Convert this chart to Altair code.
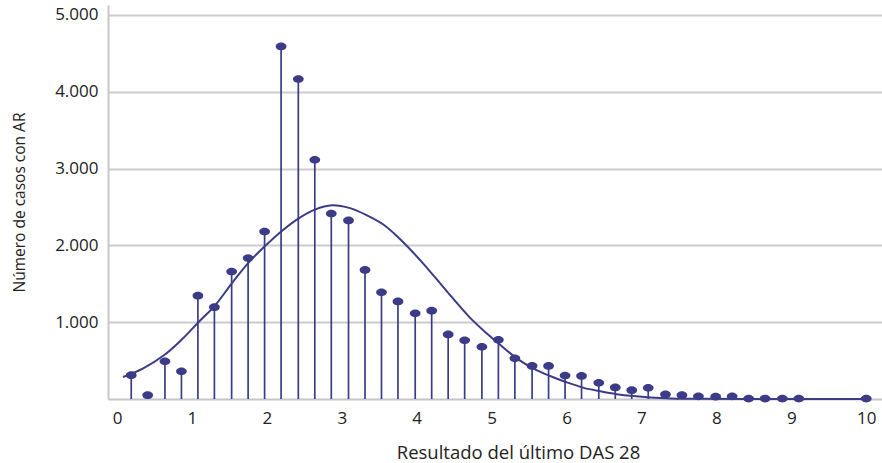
import altair as alt
import pandas as pd

# DAS 28 bins (x) and number of RA cases (y)
das_values = [0.19, 0.41, 0.64, 0.86, 1.08, 1.30, 1.53, 1.75, 1.97, 2.19,
              2.42, 2.64, 2.86, 3.09, 3.31, 3.53, 3.75, 3.98, 4.20, 4.42,
              4.64, 4.87, 5.09, 5.31, 5.54, 5.76, 5.98, 6.20, 6.43, 6.65,
              6.87, 7.09, 7.32, 7.54, 7.76, 7.99, 8.21, 8.43, 8.65, 8.88,
              9.10, 10.0]
cases = [310, 50, 490, 360, 1345, 1195, 1660, 1835, 2180, 4590,
         4165, 3115, 2415, 2325, 1680, 1390, 1270, 1115, 1150, 840,
         765, 680, 770, 530, 430, 430, 305, 300, 210, 150,
         115, 145, 60, 50, 35, 30, 35, 5, 5, 5,
         5, 5]

# fitted curve
curve_x = [0.08, 0.35, 0.64, 0.87, 1.09, 1.31, 1.53, 1.75, 1.98, 2.20,
           2.42, 2.64, 2.87, 3.11, 3.33, 3.55, 3.78, 4.09, 4.40, 4.71,
           4.94, 5.11, 5.34, 5.56, 5.78, 6.00, 6.23, 6.45, 6.67, 6.89,
           7.12, 7.40, 7.80, 8.40, 9.20, 10.0]
curve_y = [286, 400, 580, 780, 1003, 1220, 1503, 1770, 1995, 2188,
           2349, 2466, 2522, 2485, 2395, 2275, 2080, 1760, 1405, 1060,
           850, 710, 525, 396, 300, 218, 145, 100, 63, 38,
           20, 8, 2, 0, 0, 0]

x_ticks = [0, 1, 2, 3, 4, 5, 6, 7, 8, 9, 10]
y_ticks = [1000, 2000, 3000, 4000, 5000]

COLOR = "#3b3b88"
FONT = "Open Sans"

pts = pd.DataFrame({"das": das_values, "casos": cases})
crv = pd.DataFrame({"das": curve_x, "casos": curve_y})

x_scale = alt.Scale(domain=[-0.12, 10.21], nice=False, zero=False)
y_scale = alt.Scale(domain=[0, 5130], nice=False)

x_axis = alt.Axis(
    values=x_ticks, format="d", grid=False, ticks=False, domain=True,
    domainColor="#c4c4cc", domainWidth=2,
    labelFont=FONT, labelFontSize=17, labelColor="#222222", labelPadding=11,
    title="Resultado del último DAS 28", titleFont=FONT, titleFontSize=18.5,
    titleFontWeight="normal", titleColor="#222222",
    titleX=410, titleY=59, titleBaseline="alphabetic", titleAlign="center",
)
y_axis = alt.Axis(
    values=y_ticks, grid=True, gridColor="#cccccc", gridWidth=1.8,
    ticks=False, domain=True, domainColor="#c8c8c8", domainWidth=2,
    labelFont=FONT, labelFontSize=17, labelColor="#222222", labelPadding=10,
    labelExpr="replace(format(datum.value, ','), ',', '.')",
    title="Número de casos con AR", titleFont=FONT, titleFontSize=15.5,
    titleFontWeight="normal", titleColor="#222222",
    titleX=-84, titleY=197, titleAngle=270, titleBaseline="alphabetic",
    titleAlign="center",
)

stems = alt.Chart(pts).mark_rule(color=COLOR, strokeWidth=1.7).encode(
    x=alt.X("das:Q", scale=x_scale, axis=x_axis),
    y=alt.Y("casos:Q", scale=y_scale, axis=y_axis),
    y2=alt.datum(0),
)

ellipse = "M -1 0 A 1 0.72 0 1 0 1 0 A 1 0.72 0 1 0 -1 0 Z"
dots = alt.Chart(pts).mark_point(
    shape=ellipse, filled=True, fill=COLOR, opacity=1, size=115, strokeWidth=0
).encode(
    x=alt.X("das:Q", scale=x_scale),
    y=alt.Y("casos:Q", scale=y_scale),
)

curve = alt.Chart(crv).mark_line(
    color=COLOR, strokeWidth=2, interpolate="catmull-rom"
).encode(
    x=alt.X("das:Q", scale=x_scale),
    y=alt.Y("casos:Q", scale=y_scale),
)

chart = alt.layer(stems, curve, dots).properties(
    width=774, height=394,
    padding={"left": 108, "top": 5, "right": 0, "bottom": 64},
    autosize=alt.AutoSizeParams(type="none"),
    background="white",
).configure_view(strokeWidth=0)

chart.save("out.html", embed_options={"renderer": "svg", "actions": False})
